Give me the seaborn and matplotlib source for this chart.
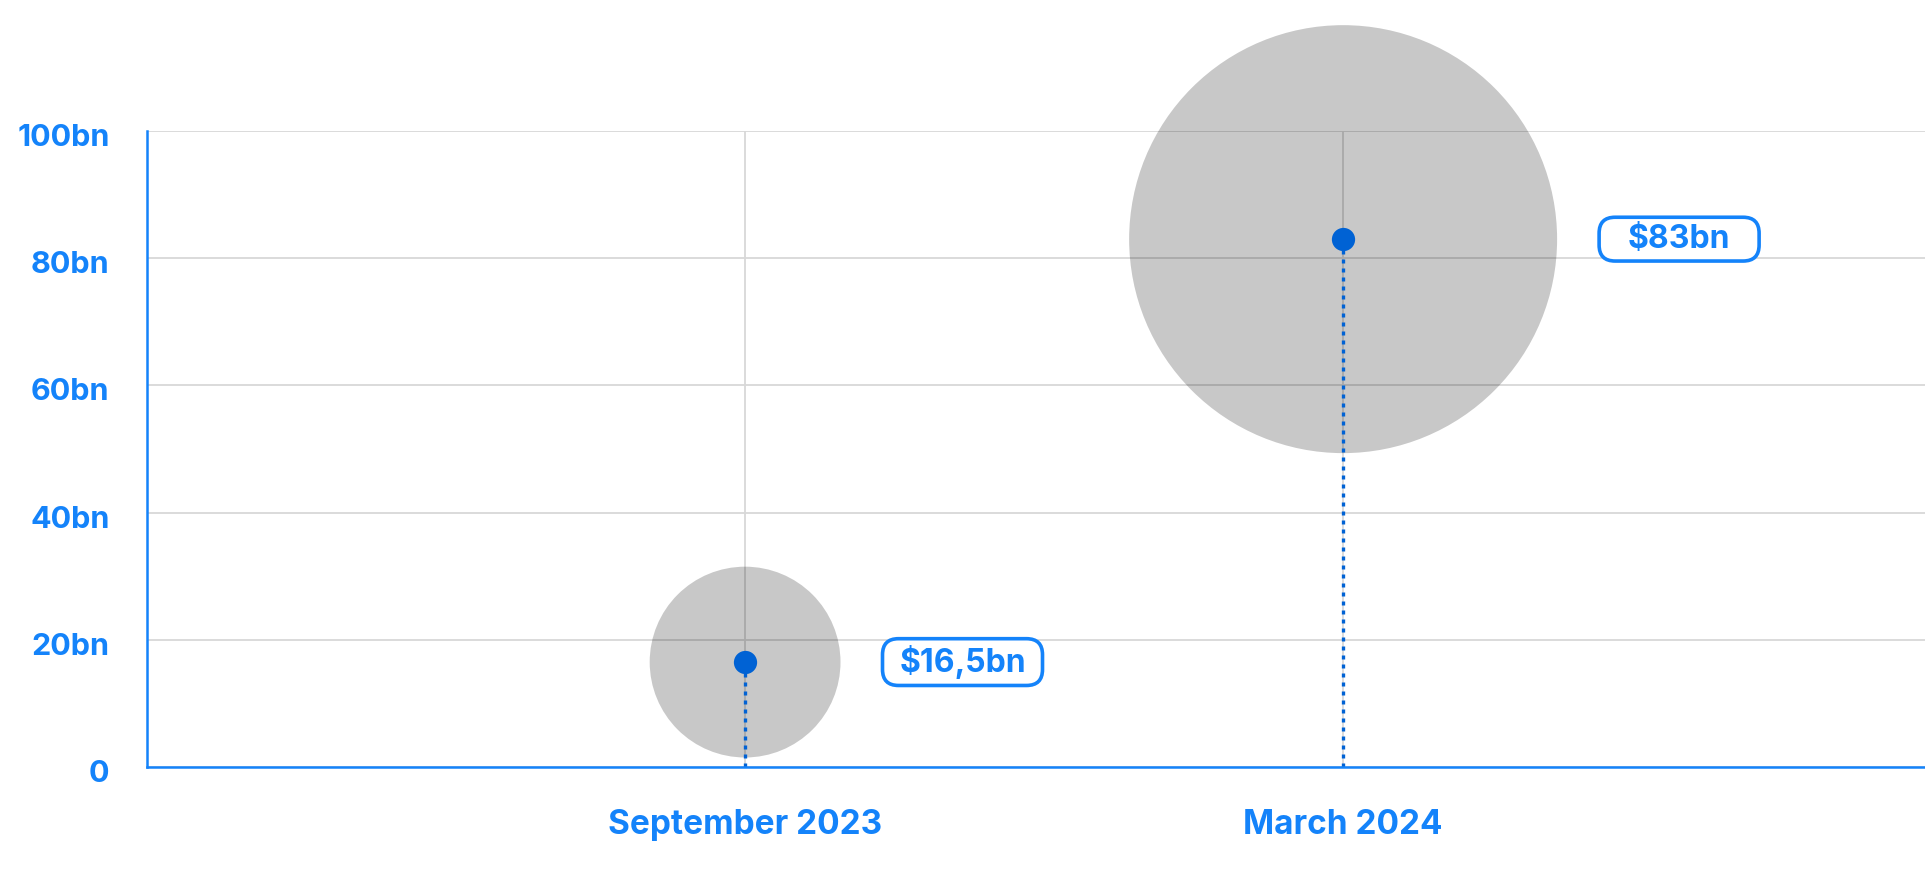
import matplotlib
matplotlib.use("Agg")
import matplotlib.pyplot as plt
from matplotlib.patches import BoxStyle
from matplotlib.transforms import ScaledTranslation
import seaborn as sns
import pandas as pd
import numpy as np

# Data
periods = ["September 2023", "March 2024"]
values_bn = [16.5, 83]
value_labels = ["$16,5bn", "$83bn"]
y_ticks = [0, 20, 40, 60, 80, 100]
y_tick_labels = ["0", "20bn", "40bn", "60bn", "80bn", "100bn"]

BLUE = "#1483fa"
DOT_BLUE = "#0062d4"
GRID = "#d8d8d8"

sns.set_theme(style="white")
plt.rcParams["font.family"] = ["Inter", "DejaVu Sans"]
plt.rcParams["font.weight"] = "bold"

df = pd.DataFrame({"pos": np.arange(len(periods)), "period": periods, "value": values_bn})

_round = BoxStyle.Round(pad=0, rounding_size=0.5)
LABEL_BOX_W = 160  # pixels, constant width for every value label box


def pill_box(x0, y0, width, height, mutation_size):
    """Fixed-width rounded box centred on the text."""
    pady = 0.2 * mutation_size
    cx = x0 + width / 2
    return _round(cx - LABEL_BOX_W / 2, y0 - pady, LABEL_BOX_W, height + 2 * pady,
                  mutation_size)


fig = plt.figure(figsize=(19.25, 8.77), dpi=100)
ax = fig.add_axes([0.0764, 0.1254, 0.9236, 0.7252])

# bubble area proportional to value (points^2 per bn)
area_per_bn = 1144.0
vmin, vmax = min(values_bn), max(values_bn)
sns.scatterplot(data=df, x="pos", y="value", size="value",
                sizes=(area_per_bn * vmin, area_per_bn * vmax), size_norm=(vmin, vmax),
                color="black", alpha=0.216, linewidth=0, legend=False,
                clip_on=False, zorder=2, ax=ax)

# dotted drop lines from each value down to zero
ax.vlines(df["pos"], 0, df["value"], colors=DOT_BLUE, linewidth=2.4,
          linestyles=(0, (1.2, 1.5)), zorder=4)

# value markers
sns.scatterplot(data=df, x="pos", y="value", color=DOT_BLUE, s=280,
                linewidth=0, legend=False, clip_on=False, zorder=5, ax=ax)

# boxed value labels to the right of each bubble
for p, v, lab in zip(df["pos"], df["value"], value_labels):
    radius_px = np.sqrt(area_per_bn * v) / 0.72 / 2
    ax.annotate(lab, xy=(p, v), xytext=(radius_px + 42 + LABEL_BOX_W / 2, 0),
                textcoords="offset pixels",
                ha="center", va="center", fontsize=23, fontweight="bold", color=BLUE,
                bbox=dict(boxstyle=pill_box, fc="white", ec=BLUE, lw=2.6),
                zorder=6, annotation_clip=False)

ax.set_xlim(-1.0, 1.973)
ax.set_ylim(0, 100)
ax.set_xticks(df["pos"])
ax.set_xticklabels(periods)
ax.set_yticks(y_ticks)
ax.set_yticklabels(y_tick_labels)
ax.set_xlabel("")
ax.set_ylabel("")

ax.grid(True, color=GRID, linewidth=1.3, zorder=1)
ax.set_axisbelow(True)

for side in ("top", "right"):
    ax.spines[side].set_visible(False)
for side in ("left", "bottom"):
    ax.spines[side].set_color(BLUE)
    ax.spines[side].set_linewidth(1.8)
    ax.spines[side].set_zorder(4)

ax.tick_params(axis="both", length=0, colors=BLUE)
ax.tick_params(axis="y", pad=27, labelsize=22)
ax.tick_params(axis="x", pad=30, labelsize=24)
for t in ax.get_xticklabels():
    t.set_fontweight("bold")
shift_down = ScaledTranslation(0, -0.04, fig.dpi_scale_trans)
for t in ax.get_yticklabels():
    t.set_fontweight("bold")
    t.set_transform(t.get_transform() + shift_down)

fig.savefig("out.png", dpi=100, facecolor="white")
